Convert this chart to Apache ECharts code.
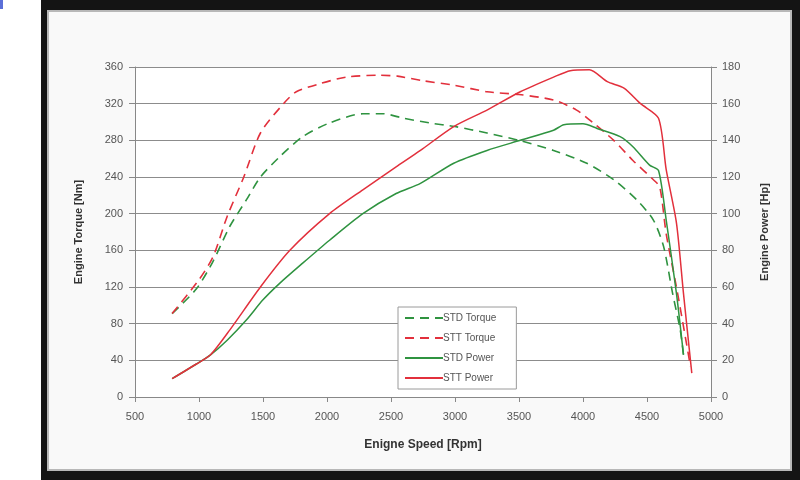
<!DOCTYPE html>
<html>
<head>
<meta charset="utf-8">
<style>
html,body{margin:0;padding:0;background:#ffffff;}
#chart{width:800px;height:480px;}
</style>
<script src="https://cdn.jsdelivr.net/npm/echarts@6/dist/echarts.min.js"></script>
</head>
<body>
<div id="chart"></div>
<script>
// ---- data ----
var xTicks = [500, 1000, 1500, 2000, 2500, 3000, 3500, 4000, 4500, 5000];
var torqueTicks = [0, 40, 80, 120, 160, 200, 240, 280, 320, 360];
var powerTicks = [0, 20, 40, 60, 80, 100, 120, 140, 160, 180];

var stdTorqueRpm = [790, 980, 1110, 1240, 1370, 1480, 1630, 1810, 2020, 2280, 2440, 2600, 2800, 3000, 3250, 3500, 3770, 4030, 4240, 4420, 4550, 4630, 4700, 4760, 4785];
var stdTorqueNm  = [91, 118, 148, 186, 215, 240, 262, 284, 299, 309, 309, 304, 299, 295, 288, 280, 269, 255, 237, 215, 193, 164, 113, 73, 46];

var sttTorqueRpm = [790, 1000, 1110, 1220, 1350, 1480, 1660, 1760, 1950, 2150, 2410, 2550, 2750, 3000, 3250, 3500, 3770, 3950, 4080, 4240, 4390, 4550, 4600, 4650, 4730, 4785, 4840];
var sttTorqueNm  = [91, 128, 153, 197, 240, 288, 320, 333, 342, 349, 351, 350, 345, 340, 333, 330, 324, 313, 299, 280, 258, 237, 229, 178, 120, 77, 33];

var stdPowerRpm = [790, 980, 1090, 1220, 1370, 1500, 1630, 1810, 2020, 2280, 2540, 2730, 2990, 3250, 3510, 3770, 3850, 4000, 4110, 4290, 4390, 4520, 4590, 4650, 4730, 4785];
var stdPowerHp  = [10, 18, 23, 31, 42, 53, 62, 73, 85.5, 100, 111, 116.5, 127.5, 134.5, 140, 145.5, 148.5, 149, 146.5, 142, 136.5, 126.5, 123.5, 96.5, 56.5, 23];

var sttPowerRpm = [790, 980, 1090, 1240, 1480, 1710, 2020, 2280, 2540, 2730, 2990, 3250, 3510, 3770, 3900, 4050, 4190, 4320, 4450, 4590, 4650, 4730, 4785, 4850];
var sttPowerHp  = [10, 18, 23, 36.5, 60, 80, 100, 113, 125.5, 134.5, 147.5, 156.5, 166.5, 174.5, 178, 178.5, 172, 168.5, 160, 152, 124, 95, 56.5, 13];

var seriesNames = ['STD Torque', 'STT Torque', 'STD Power', 'STT Power'];

function pairs(xs, ys) {
  var out = [];
  for (var i = 0; i < xs.length; i++) out.push([xs[i], ys[i]]);
  return out;
}

var GREEN = '#2f9340';
var RED = '#e2303c';
var FONT = 'Liberation Sans';

var chart = echarts.init(document.getElementById('chart'), null, {renderer: 'canvas'});

var option = {
  backgroundColor: '#ffffff',
  animation: false,
  textStyle: {fontFamily: FONT},
  graphic: [
    {type: 'rect', z: -10, silent: true, shape: {x: 41, y: 0, width: 759, height: 480}, style: {fill: '#141414'}},
    {type: 'rect', z: -9, silent: true, shape: {x: 48, y: 11, width: 743, height: 459}, style: {fill: '#f9f9f9', stroke: '#b8b8b8', lineWidth: 2}},
    {type: 'rect', z: -10, silent: true, shape: {x: 0, y: 0, width: 3, height: 9}, style: {fill: '#5b6fd8'}}
  ],
  grid: {left: 135, right: 89, top: 67, bottom: 83, containLabel: false, show: true, backgroundColor: '#ffffff', borderWidth: 0},
  legend: {
    data: seriesNames,
    orient: 'vertical',
    left: 398,
    top: 307,
    itemWidth: 38,
    itemHeight: 10,
    itemGap: 10,
    padding: [6, 20, 6, 6],
    backgroundColor: '#ffffff',
    borderColor: '#9a9a9a',
    borderWidth: 1,
    itemStyle: {opacity: 0},
    textStyle: {fontFamily: FONT, fontSize: 10, color: '#555555', padding: [0, 0, 0, -5]}
  },
  xAxis: {
    type: 'value',
    min: 500,
    max: 5000,
    interval: 500,
    name: 'Enigne Speed [Rpm]',
    nameLocation: 'middle',
    nameGap: 42,
    nameTextStyle: {fontFamily: FONT, fontSize: 12, fontWeight: 'bold', color: '#333333'},
    axisLine: {show: true, onZero: false, lineStyle: {color: '#888888', width: 1}},
    axisTick: {show: true, inside: false, length: 5, lineStyle: {color: '#888888'}},
    axisLabel: {fontFamily: FONT, fontSize: 11, color: '#555555', margin: 14,
      formatter: function (v) { return xTicks.indexOf(v) >= 0 ? String(v) : ''; }},
    splitLine: {show: false}
  },
  yAxis: [
    {
      type: 'value',
      min: 0,
      max: 360,
      interval: 40,
      position: 'left',
      name: 'Engine Torque [Nm]',
      nameLocation: 'middle',
      nameRotate: 90,
      nameGap: 51,
      nameTextStyle: {fontFamily: FONT, fontSize: 11, fontWeight: 'bold', color: '#333333'},
      axisLine: {show: true, lineStyle: {color: '#888888', width: 1}},
      axisTick: {show: true, length: 6, lineStyle: {color: '#888888'}},
      axisLabel: {fontFamily: FONT, fontSize: 11, color: '#555555', margin: 12,
        formatter: function (v) { return torqueTicks.indexOf(v) >= 0 ? String(v) : ''; }},
      splitLine: {show: true, lineStyle: {color: '#8c8c8c', width: 1}}
    },
    {
      type: 'value',
      min: 0,
      max: 180,
      interval: 20,
      position: 'right',
      name: 'Engine Power [Hp]',
      nameLocation: 'middle',
      nameRotate: 90,
      nameGap: 48,
      nameTextStyle: {fontFamily: FONT, fontSize: 11, fontWeight: 'bold', color: '#333333'},
      axisLine: {show: true, lineStyle: {color: '#888888', width: 1}},
      axisTick: {show: true, length: 6, lineStyle: {color: '#888888'}},
      axisLabel: {fontFamily: FONT, fontSize: 11, color: '#555555', margin: 11,
        formatter: function (v) { return powerTicks.indexOf(v) >= 0 ? String(v) : ''; }},
      splitLine: {show: false}
    }
  ],
  series: [
    {
      name: seriesNames[0], type: 'line', yAxisIndex: 0, showSymbol: false, smooth: 0.25,
      data: pairs(stdTorqueRpm, stdTorqueNm),
      itemStyle: {color: GREEN},
      lineStyle: {color: GREEN, width: 1.6, type: [9, 6]}
    },
    {
      name: seriesNames[1], type: 'line', yAxisIndex: 0, showSymbol: false, smooth: 0.25,
      data: pairs(sttTorqueRpm, sttTorqueNm),
      itemStyle: {color: RED},
      lineStyle: {color: RED, width: 1.6, type: [9, 6]}
    },
    {
      name: seriesNames[2], type: 'line', yAxisIndex: 1, showSymbol: false, smooth: 0.25,
      data: pairs(stdPowerRpm, stdPowerHp),
      itemStyle: {color: GREEN},
      lineStyle: {color: GREEN, width: 1.5}
    },
    {
      name: seriesNames[3], type: 'line', yAxisIndex: 1, showSymbol: false, smooth: 0.25,
      data: pairs(sttPowerRpm, sttPowerHp),
      itemStyle: {color: RED},
      lineStyle: {color: RED, width: 1.5}
    }
  ]
};

chart.setOption(option);
</script>
</body>
</html>
